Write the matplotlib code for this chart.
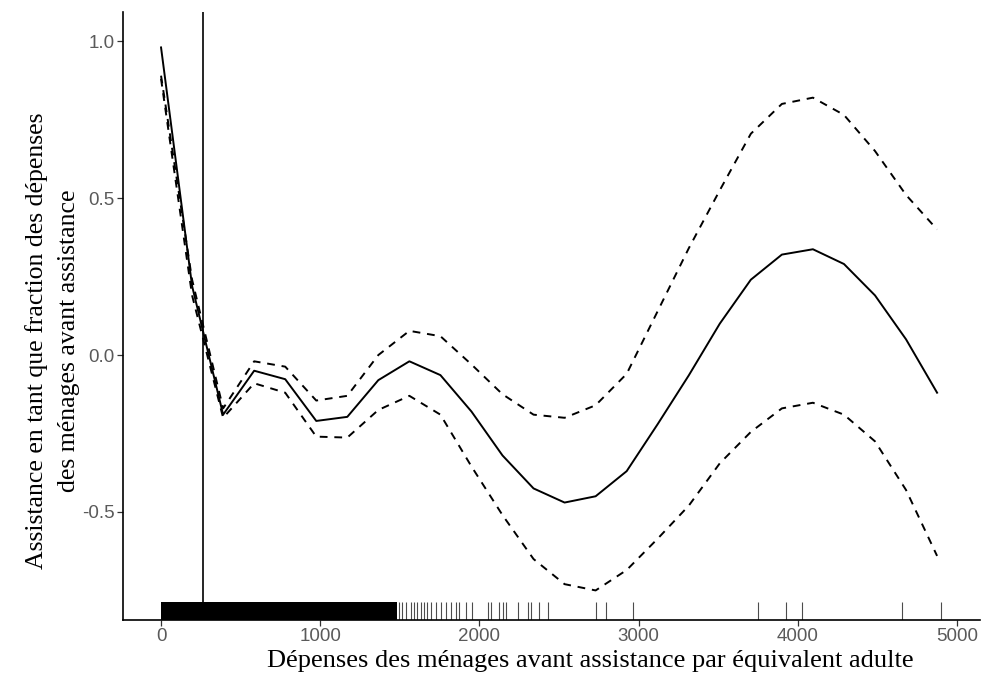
import matplotlib
matplotlib.use("Agg")
import matplotlib.pyplot as plt
import matplotlib.transforms as mtransforms

# estimates at the evaluation grid
grid_x = [0, 195, 390, 585, 780, 975, 1170, 1365, 1560, 1755, 1950, 2145, 2340,
          2535, 2730, 2925, 3120, 3315, 3510, 3705, 3900, 4095, 4290, 4485, 4680, 4875]
fit = [0.98, 0.22, -0.19, -0.05, -0.077, -0.21, -0.197, -0.08, -0.02, -0.064, -0.18,
       -0.32, -0.425, -0.47, -0.45, -0.37, -0.22, -0.065, 0.10, 0.24, 0.32, 0.337,
       0.29, 0.19, 0.05, -0.12]
upper = [0.89, 0.24, -0.17, -0.02, -0.037, -0.145, -0.13, 0.0, 0.077, 0.06, -0.03,
         -0.125, -0.19, -0.20, -0.16, -0.06, 0.14, 0.34, 0.525, 0.705, 0.80, 0.82,
         0.765, 0.65, 0.51, 0.40]
lower = [0.88, 0.19, -0.20, -0.09, -0.12, -0.26, -0.263, -0.175, -0.13, -0.19, -0.355,
         -0.51, -0.65, -0.73, -0.75, -0.685, -0.585, -0.48, -0.345, -0.245, -0.17,
         -0.152, -0.19, -0.275, -0.43, -0.64]

threshold = 264

# rug: a solid block of observations, then individual ones
rug_dense = [(0, 1480)]
rug_obs = [1495, 1516, 1537, 1568, 1589, 1610, 1631, 1652, 1673, 1694, 1725,
           1757, 1788, 1820, 1851, 1872, 1914, 1956, 2051, 2072, 2124, 2145,
           2166, 2240, 2303, 2324, 2376, 2429, 2733, 2796, 2966, 3753, 3929,
           4024, 4654, 4899]

x_ticks = [0, 1000, 2000, 3000, 4000, 5000]
y_ticks = [-0.5, 0.0, 0.5, 1.0]
y_tick_labels = ["-0.5", "0.0", "0.5", "1.0"]

fig = plt.figure(figsize=(9.84, 6.82), dpi=100)
ax = fig.add_axes([0.125, 0.091, 0.871, 0.891])

ax.plot(grid_x, fit, color="black", lw=1.4)
ax.plot(grid_x, upper, color="black", lw=1.4, linestyle=(0, (4, 3.5)))
ax.plot(grid_x, lower, color="black", lw=1.4, linestyle=(0, (4, 3.5)))
ax.axvline(threshold, color="black", lw=1.2)

# rug along the bottom, 3% of panel height
trans = mtransforms.blended_transform_factory(ax.transData, ax.transAxes)
for a, b in rug_dense:
    ax.fill_between([a, b], 0, 0.03, transform=trans, color="black", lw=0)
ax.vlines(rug_obs, 0, 0.03, transform=trans, color="black", lw=0.8, alpha=0.7)

ax.set_xlim(-239, 5145)
ax.set_ylim(-0.844, 1.092)
ax.set_xticks(x_ticks)
ax.set_yticks(y_ticks)
ax.set_yticklabels(y_tick_labels)

for side in ["top", "right"]:
    ax.spines[side].set_visible(False)
for side in ["left", "bottom"]:
    ax.spines[side].set_linewidth(1.2)
    ax.spines[side].set_color("black")

ax.tick_params(axis="both", length=4, width=0.9, color="#333333",
               labelcolor="#5a5a5a", labelsize=13.5, pad=2)
for lab in ax.get_xticklabels() + ax.get_yticklabels():
    lab.set_family("Liberation Sans")

serif = "Liberation Serif"
ax.set_xlabel("Dépenses des ménages avant assistance par équivalent adulte",
              family=serif, fontsize=19)
ax.xaxis.set_label_coords(0.545, -0.05)
ax.set_ylabel("Assistance en tant que fraction des dépenses\ndes ménages avant assistance",
              family=serif, fontsize=18.5, linespacing=1.6)
ax.yaxis.set_label_coords(-0.05, 0.46)

fig.savefig("out.png", dpi=100, facecolor="white")
